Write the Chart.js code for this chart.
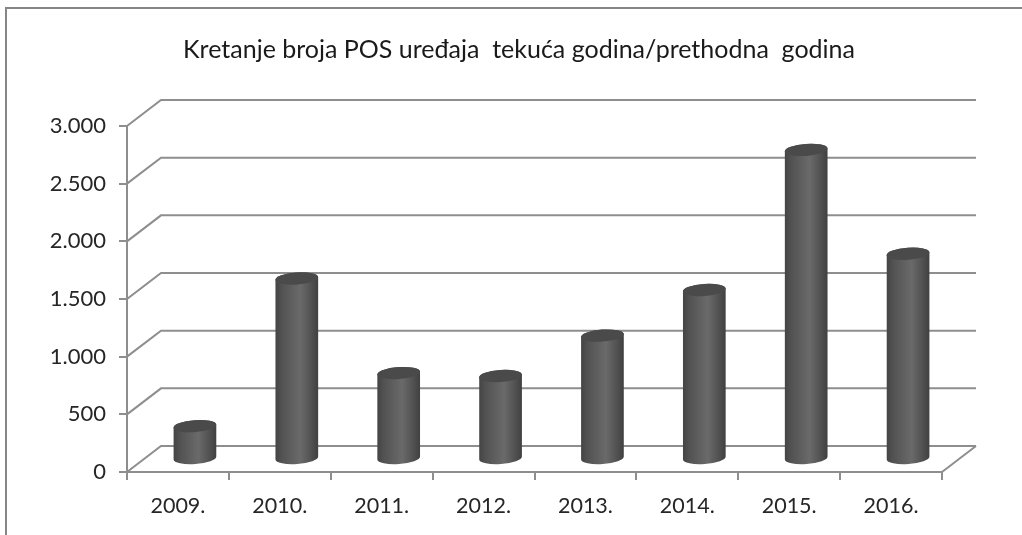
<!DOCTYPE html>
<html>
<head>
<meta charset="utf-8">
<style>
    html, body { margin: 0; padding: 0; background: #fff; overflow: hidden; }
    #frame { position: absolute; left: 5px; top: 7px; width: 1017px; height: 528px; box-sizing: border-box; border-left: 2px solid #868686; border-top: 2px solid #868686; }
    #salesChart { position: absolute; left: 0; top: 0; }
</style>
</head>
<body>
<div id="frame"></div>
<canvas id="salesChart" width="1022" height="535"></canvas>

<script src="https://cdn.jsdelivr.net/npm/chart.js"></script>
<script>
    const titleText = 'Kretanje broja POS uređaja  tekuća godina/prethodna  godina';
    const categories = ['2009.', '2010.', '2011.', '2012.', '2013.', '2014.', '2015.', '2016.'];
    const posValues = [285, 1565, 745, 720, 1070, 1465, 2680, 1780];
    const yTickLabels = ['0', '500', '1.000', '1.500', '2.000', '2.500', '3.000'];

    const lineColor = '#8e8e8e';
    const textColor = '#262626';
    const depthX = 34;
    const depthY = -26;

    // 3D look: back wall lines and cylinders are placed from the chart's own scales
    const wall3d = {
        id: 'wall3d',
        afterLayout(chart) {
            // title is centred a bit right of the plot area
            chart.titleBlock.right = 1038;
        },
        beforeDatasetsDraw(chart) {
            const { ctx, chartArea, scales } = chart;
            ctx.save();
            ctx.strokeStyle = lineColor;
            ctx.lineWidth = 2;
            scales.y.ticks.forEach(tick => {
                const y = scales.y.getPixelForValue(tick.value);
                ctx.beginPath();
                ctx.moveTo(chartArea.left, y);
                ctx.lineTo(chartArea.left + depthX, y + depthY);
                ctx.lineTo(chartArea.right + depthX, y + depthY);
                ctx.stroke();
            });
            // right edge of the floor
            ctx.beginPath();
            ctx.moveTo(chartArea.right, chartArea.bottom);
            ctx.lineTo(chartArea.right + depthX, chartArea.bottom + depthY);
            ctx.stroke();
            ctx.restore();
        },
        afterDatasetsDraw(chart) {
            const { ctx } = chart;
            const rx = chart.getDatasetMeta(0).data[0].width / 2;
            const ry = 6;
            const tilt = -0.07;
            chart.getDatasetMeta(0).data.forEach(bar => {
                const cx = bar.x + depthX / 2;
                const top = bar.y + depthY / 2;
                const base = bar.base + depthY / 2;

                const grad = ctx.createLinearGradient(cx - rx, 0, cx + rx, 0);
                grad.addColorStop(0, '#444444');
                grad.addColorStop(0.15, '#525252');
                grad.addColorStop(0.58, '#6a6a6a');
                grad.addColorStop(0.85, '#505050');
                grad.addColorStop(1, '#404040');

                ctx.save();
                ctx.fillStyle = grad;
                ctx.beginPath();
                ctx.ellipse(cx, base, rx, ry, tilt, 0, Math.PI);
                ctx.ellipse(cx, top, rx, ry, tilt, Math.PI, 0, false);
                ctx.closePath();
                ctx.fill();

                ctx.fillStyle = '#4a4a4a';
                ctx.beginPath();
                ctx.ellipse(cx, top, rx, ry, tilt, 0, Math.PI * 2);
                ctx.fill();
                ctx.restore();
            });
        }
    };

    const config = {
        type: 'bar',
        data: {
            labels: categories,
            datasets: [{
                data: posValues,
                backgroundColor: 'rgba(0,0,0,0)',
                borderWidth: 0,
                barPercentage: 0.42,
                categoryPercentage: 1
            }]
        },
        options: {
            responsive: false,
            animation: false,
            layout: { padding: { left: 0, right: 80, top: 0, bottom: 0 } },
            plugins: {
                legend: { display: false },
                tooltip: { enabled: false },
                title: {
                    display: true,
                    text: titleText,
                    color: '#1a1a1a',
                    font: { family: 'Lato', size: 25, weight: 'normal' },
                    padding: { top: 35, bottom: 61 }
                }
            },
            scales: {
                x: {
                    border: { color: lineColor, width: 2 },
                    grid: { drawOnChartArea: false, color: lineColor, lineWidth: 2, tickLength: 8 },
                    ticks: { color: textColor, font: { family: 'Lato', size: 21.5 }, padding: 13, maxRotation: 0 },
                    afterFit(scale) { scale.height = 63; }
                },
                y: {
                    min: 0,
                    max: 3000,
                    border: { color: lineColor, width: 2 },
                    grid: { drawOnChartArea: false, color: lineColor, lineWidth: 2, tickLength: 8 },
                    ticks: {
                        stepSize: 500,
                        color: textColor,
                        font: { family: 'Lato', size: 22 },
                        padding: 13,
                        callback: (value) => yTickLabels[value / 500]
                    },
                    afterFit(scale) { scale.width = 127; }
                }
            }
        },
        plugins: [wall3d]
    };

    const ctx = document.getElementById('salesChart').getContext('2d');
    const posChart = new Chart(ctx, config);
</script>
</body>
</html>
